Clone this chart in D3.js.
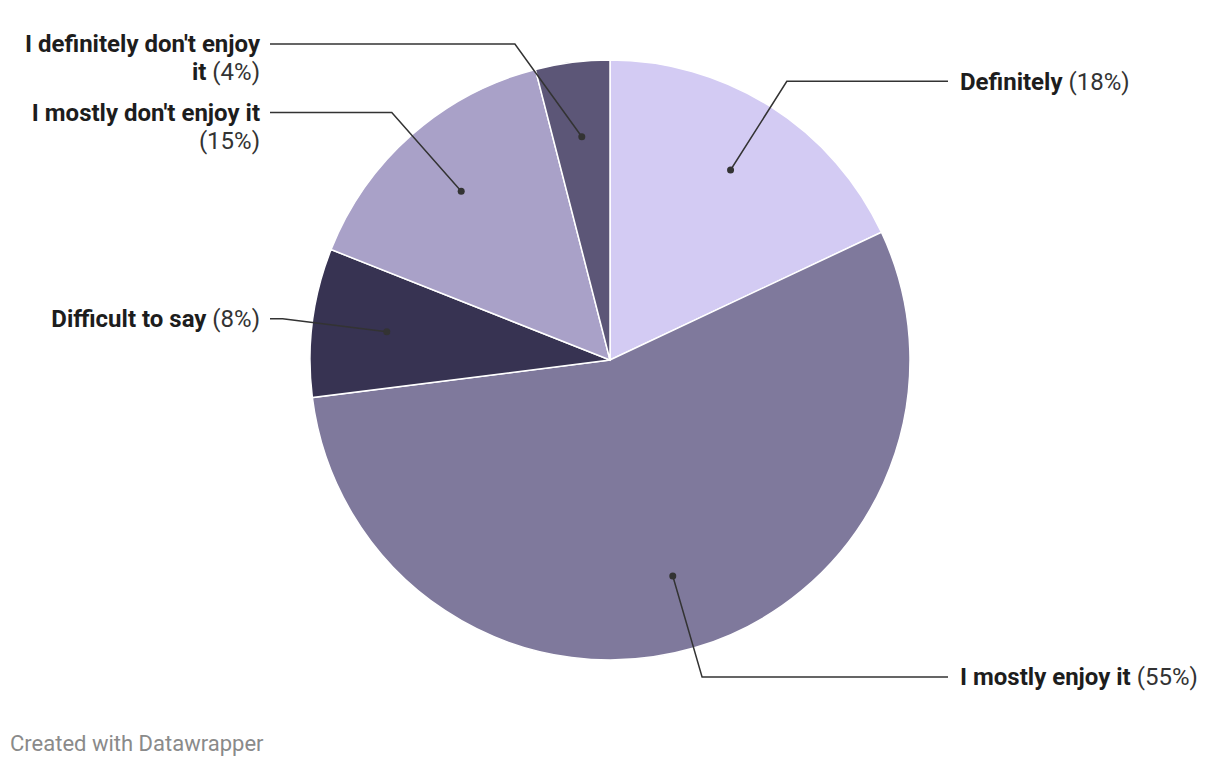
<!DOCTYPE html>
<html>
<head>
<meta charset="utf-8">
<script src="https://cdn.jsdelivr.net/npm/d3@7"></script>
<style>
  body { margin: 0; background: #fff; font-family: Roboto, "Noto Sans", sans-serif; }
  .pie-label { font-size: 24px; fill: #1d1d1d; }
  .pie-label .name { font-weight: 700; }
  .pie-label .pct { font-weight: 400; fill: #333; }
  .footer { font-size: 22px; fill: #8a8a8a; }
</style>
</head>
<body>
<div id="chart"></div>
<script>
// chart data
var categories = ["Definitely", "I mostly enjoy it", "Difficult to say", "I mostly don't enjoy it", "I definitely don't enjoy it"];
var values = [18, 55, 8, 15, 4];
var colors = ["#d3cbf3", "#7f799c", "#373352", "#a9a1c8", "#5c5677"];

var width = 1220,
  height = 766,
  cx = 610,
  cy = 360,
  radius = 300;

var maxLabelWidth = 248,
  lineHeight = 28;

function drawChart() {
  var svg = d3.select('#chart')
    .append('svg')
    .attr('width', width)
    .attr('height', height);

  var g = svg.append('g')
    .attr('transform', 'translate(' + cx + ',' + cy + ')');

  var data = categories.map(function(c, i) {
    return { name: c, value: values[i], color: colors[i] };
  });

  var pie = d3.pie()
    .sort(null)
    .value(function(d) { return d.value; });

  var arcs = pie(data);

  var arc = d3.arc().innerRadius(0).outerRadius(radius);
  // dots sit at 3/4 radius, the bend of the leader line at 1.1 radius
  var dotArc = d3.arc().innerRadius(radius * 0.75).outerRadius(radius * 0.75);
  var outerR = radius * 1.1;

  g.selectAll('.pie-slice')
    .data(arcs)
    .enter()
    .append('path')
    .classed('pie-slice', true)
    .attr('d', arc)
    .attr('fill', function(d) { return d.data.color; })
    .attr('stroke', '#fff')
    .attr('stroke-width', 1.5);

  // measure a whole candidate line with the same markup used to draw it
  var measure = svg.append('text').attr('class', 'pie-label').attr('x', 0).attr('y', -100);
  function lineWidth(tokens) {
    measure.selectAll('tspan').remove();
    tokens.forEach(function(tk, ti) {
      measure.append('tspan')
        .attr('class', tk.bold ? 'name' : 'pct')
        .text((ti ? ' ' : '') + tk.t);
    });
    return measure.node().getComputedTextLength();
  }

  function wrapLabel(d) {
    var tokens = d.data.name.split(' ').map(function(w) { return { t: w, bold: true }; });
    tokens.push({ t: '(' + d.data.value + '%)', bold: false });
    var lines = [[]];
    tokens.forEach(function(tk) {
      var last = lines[lines.length - 1];
      if (last.length && lineWidth(last.concat([tk])) > maxLabelWidth) {
        lines.push([tk]);
      } else {
        last.push(tk);
      }
    });
    return lines;
  }

  // label layout
  var labels = arcs.map(function(d) {
    var mid = (d.startAngle + d.endAngle) / 2;
    var right = mid < Math.PI;
    return {
      d: d,
      mid: mid,
      right: right,
      dot: dotArc.centroid(d),
      y: -outerR * Math.cos(mid),
      lines: wrapLabel(d)
    };
  });

  measure.remove();

  // push overlapping labels apart on each side, keep them inside the top
  var topY = 44 - cy;
  [true, false].forEach(function(side) {
    var group = labels.filter(function(l) { return l.right === side; })
      .sort(function(a, b) { return a.y - b.y; });
    var prevBottom = -Infinity;
    group.forEach(function(l) {
      l.y = Math.max(l.y, topY, prevBottom + 10);
      prevBottom = l.y + (l.lines.length - 1) * lineHeight + 14;
    });
  });

  labels.forEach(function(l) {
    var dy = Math.max(-outerR, Math.min(outerR, l.y));
    var ex = Math.sqrt(outerR * outerR - dy * dy) * (l.right ? 1 : -1);
    l.elbow = [ex, l.y];
    l.end = [l.right ? 948 - cx : 270 - cx, l.y];
    l.textX = l.right ? 960 - cx : 260 - cx;
  });

  g.selectAll('polyline')
    .data(labels)
    .enter()
    .append('polyline')
    .attr('fill', 'none')
    .attr('stroke', '#333')
    .attr('stroke-width', 1.5)
    .attr('points', function(l) { return [l.dot, l.elbow, l.end]; });

  g.selectAll('.pie-dot')
    .data(labels)
    .enter()
    .append('circle')
    .classed('pie-dot', true)
    .attr('cx', function(l) { return l.dot[0]; })
    .attr('cy', function(l) { return l.dot[1]; })
    .attr('r', 3.5)
    .attr('fill', '#333');

  labels.forEach(function(l) {
    l.lines.forEach(function(line, li) {
      var t = g.append('text')
        .attr('class', 'pie-label')
        .attr('x', l.textX)
        .attr('y', l.y + li * lineHeight)
        .attr('dy', '0.35em')
        .style('text-anchor', l.right ? 'start' : 'end');
      line.forEach(function(tk, ti) {
        t.append('tspan')
          .attr('class', tk.bold ? 'name' : 'pct')
          .text((ti ? ' ' : '') + tk.t);
      });
    });
  });

  svg.append('text')
    .attr('class', 'footer')
    .attr('x', 10)
    .attr('y', 743)
    .attr('dy', '0.35em')
    .text('Created with Datawrapper');
}

if (document.fonts && document.fonts.ready) {
  document.fonts.ready.then(drawChart);
} else {
  drawChart();
}
</script>
</body>
</html>
